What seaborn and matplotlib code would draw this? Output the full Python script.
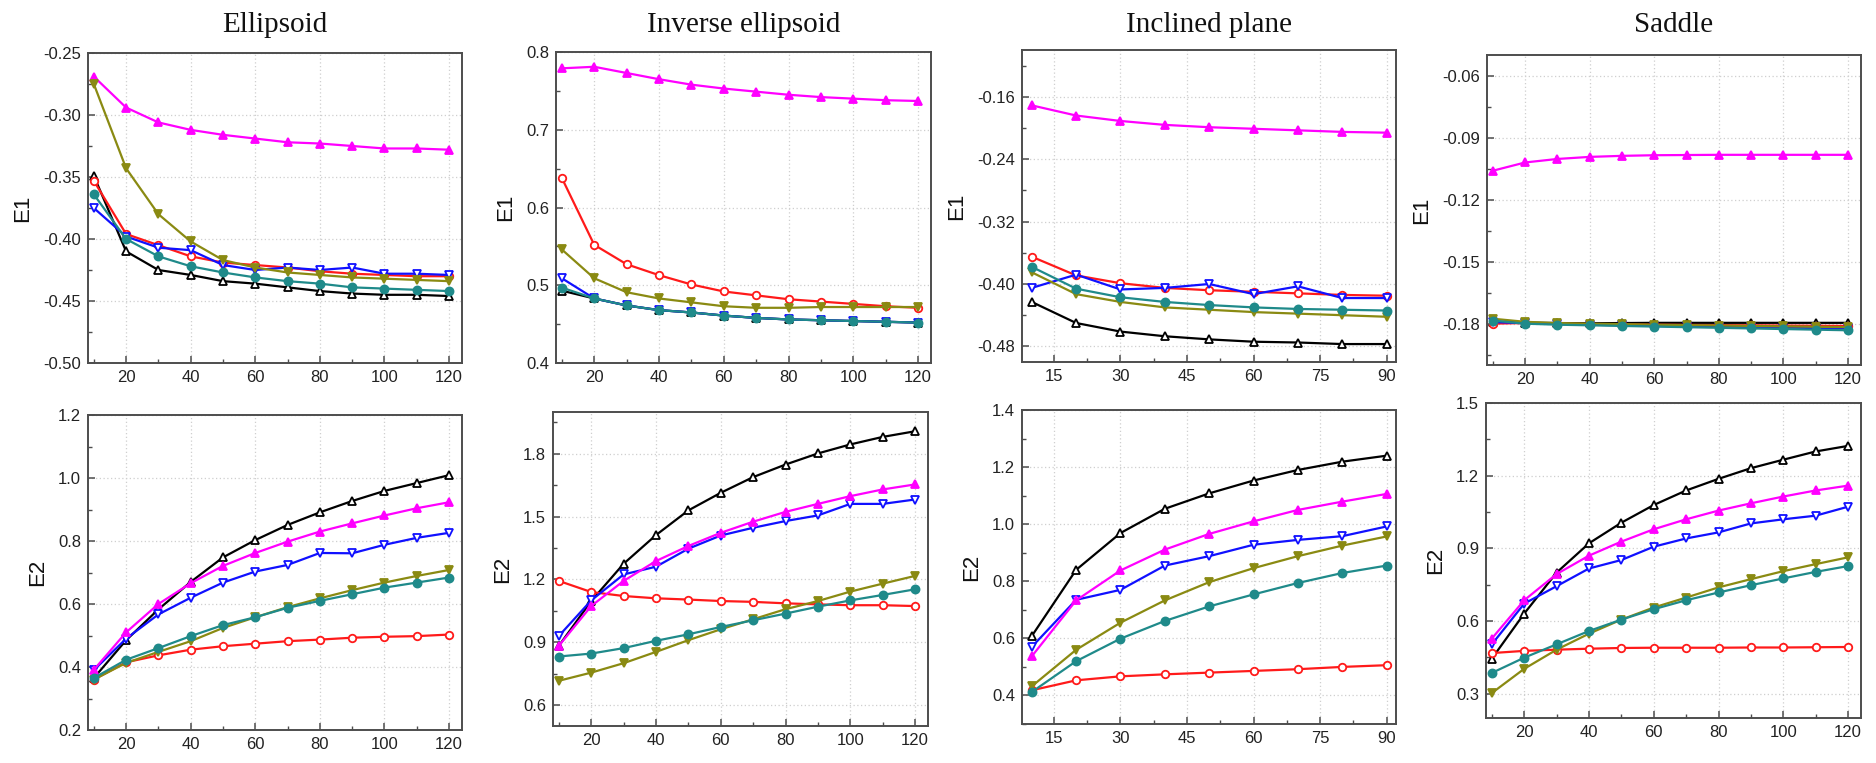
import numpy as np
import pandas as pd
import matplotlib
matplotlib.use("Agg")
import matplotlib.pyplot as plt
from matplotlib.ticker import MultipleLocator, FormatStrFormatter
import seaborn as sns

# ---------------- data ----------------
x120 = [10, 20, 30, 40, 50, 60, 70, 80, 90, 100, 110, 120]
x90 = [10, 20, 30, 40, 50, 60, 70, 80, 90]

titles = ["Ellipsoid", "Inverse ellipsoid", "Inclined plane", "Saddle"]
row_labels = ["E1", "E2"]

# Ellipsoid E1
ell_e1_black = [-0.349, -0.410, -0.425, -0.429, -0.434, -0.436, -0.439, -0.442, -0.444, -0.445, -0.445, -0.446]
ell_e1_red = [-0.353, -0.396, -0.405, -0.414, -0.419, -0.421, -0.423, -0.426, -0.428, -0.429, -0.430, -0.430]
ell_e1_blue = [-0.375, -0.398, -0.407, -0.409, -0.421, -0.425, -0.423, -0.425, -0.423, -0.428, -0.428, -0.429]
ell_e1_magenta = [-0.269, -0.294, -0.306, -0.312, -0.316, -0.319, -0.322, -0.323, -0.325, -0.327, -0.327, -0.328]
ell_e1_olive = [-0.275, -0.343, -0.380, -0.402, -0.417, -0.423, -0.427, -0.429, -0.431, -0.432, -0.433, -0.434]
ell_e1_teal = [-0.364, -0.400, -0.414, -0.422, -0.427, -0.431, -0.434, -0.436, -0.439, -0.440, -0.441, -0.442]

# Inverse ellipsoid E1
inv_e1_black = [0.493, 0.483, 0.474, 0.468, 0.465, 0.461, 0.458, 0.456, 0.455, 0.454, 0.453, 0.452]
inv_e1_red = [0.638, 0.552, 0.527, 0.513, 0.501, 0.492, 0.487, 0.482, 0.479, 0.476, 0.473, 0.471]
inv_e1_blue = [0.509, 0.483, 0.474, 0.468, 0.465, 0.461, 0.458, 0.456, 0.455, 0.454, 0.453, 0.452]
inv_e1_magenta = [0.779, 0.781, 0.773, 0.765, 0.758, 0.753, 0.749, 0.745, 0.742, 0.740, 0.738, 0.737]
inv_e1_olive = [0.546, 0.509, 0.491, 0.483, 0.478, 0.473, 0.471, 0.471, 0.472, 0.472, 0.472, 0.472]
inv_e1_teal = [0.497, 0.483, 0.474, 0.468, 0.465, 0.461, 0.458, 0.456, 0.455, 0.454, 0.453, 0.452]

# Inclined plane E1
inc_e1_black = [-0.423, -0.450, -0.461, -0.467, -0.471, -0.474, -0.475, -0.477, -0.477]
inc_e1_red = [-0.365, -0.389, -0.399, -0.405, -0.408, -0.410, -0.412, -0.414, -0.415]
inc_e1_blue = [-0.405, -0.388, -0.407, -0.405, -0.400, -0.413, -0.403, -0.418, -0.418]
inc_e1_magenta = [-0.171, -0.184, -0.191, -0.196, -0.199, -0.201, -0.203, -0.205, -0.206]
inc_e1_olive = [-0.385, -0.413, -0.423, -0.430, -0.433, -0.436, -0.438, -0.440, -0.442]
inc_e1_teal = [-0.378, -0.406, -0.417, -0.423, -0.427, -0.430, -0.432, -0.433, -0.434]

# Saddle E1
sad_e1_black = [-0.1790, -0.1795, -0.1797, -0.1798, -0.1797, -0.1796, -0.1796, -0.1796, -0.1796, -0.1796, -0.1796, -0.1796]
sad_e1_red = [-0.1800, -0.1797, -0.1800, -0.1802, -0.1803, -0.1805, -0.1806, -0.1807, -0.1808, -0.1809, -0.1810, -0.1811]
sad_e1_blue = [-0.1792, -0.1798, -0.1802, -0.1805, -0.1808, -0.1811, -0.1813, -0.1815, -0.1817, -0.1819, -0.1821, -0.1823]
sad_e1_magenta = [-0.1060, -0.1020, -0.1003, -0.0993, -0.0988, -0.0985, -0.0984, -0.0983, -0.0983, -0.0983, -0.0983, -0.0983]
sad_e1_olive = [-0.1776, -0.1791, -0.1797, -0.1800, -0.1802, -0.1805, -0.1807, -0.1809, -0.1811, -0.1813, -0.1815, -0.1817]
sad_e1_teal = [-0.1785, -0.1800, -0.1805, -0.1808, -0.1811, -0.1814, -0.1817, -0.1820, -0.1823, -0.1826, -0.1829, -0.1832]

# Ellipsoid E2
ell_e2_black = [0.365, 0.485, 0.583, 0.670, 0.748, 0.803, 0.851, 0.891, 0.927, 0.959, 0.984, 1.009]
ell_e2_red = [0.360, 0.415, 0.437, 0.455, 0.466, 0.474, 0.482, 0.487, 0.493, 0.496, 0.498, 0.503]
ell_e2_blue = [0.390, 0.490, 0.567, 0.620, 0.668, 0.703, 0.724, 0.762, 0.761, 0.788, 0.810, 0.826]
ell_e2_magenta = [0.391, 0.510, 0.600, 0.666, 0.721, 0.762, 0.798, 0.830, 0.856, 0.881, 0.904, 0.923]
ell_e2_olive = [0.360, 0.413, 0.448, 0.482, 0.524, 0.558, 0.590, 0.618, 0.644, 0.668, 0.689, 0.708]
ell_e2_teal = [0.365, 0.423, 0.460, 0.498, 0.533, 0.558, 0.588, 0.610, 0.631, 0.652, 0.668, 0.684]

# Inverse ellipsoid E2
inv_e2_black = [0.883, 1.097, 1.275, 1.412, 1.530, 1.614, 1.689, 1.749, 1.802, 1.845, 1.881, 1.908]
inv_e2_red = [1.193, 1.140, 1.121, 1.110, 1.104, 1.097, 1.093, 1.086, 1.081, 1.077, 1.077, 1.073]
inv_e2_blue = [0.930, 1.100, 1.224, 1.261, 1.347, 1.410, 1.447, 1.479, 1.506, 1.561, 1.561, 1.582]
inv_e2_magenta = [0.883, 1.073, 1.193, 1.288, 1.360, 1.423, 1.476, 1.523, 1.561, 1.598, 1.630, 1.654]
inv_e2_olive = [0.716, 0.755, 0.800, 0.854, 0.910, 0.962, 1.010, 1.058, 1.097, 1.142, 1.180, 1.217]
inv_e2_teal = [0.832, 0.846, 0.872, 0.907, 0.938, 0.973, 1.005, 1.037, 1.070, 1.100, 1.126, 1.153]

# Inclined plane E2
inc_e2_black = [0.608, 0.840, 0.969, 1.054, 1.108, 1.153, 1.190, 1.219, 1.240]
inc_e2_red = [0.418, 0.453, 0.467, 0.474, 0.480, 0.486, 0.492, 0.500, 0.506]
inc_e2_blue = [0.570, 0.735, 0.770, 0.855, 0.888, 0.928, 0.945, 0.958, 0.992]
inc_e2_magenta = [0.537, 0.733, 0.838, 0.911, 0.966, 1.010, 1.050, 1.079, 1.106]
inc_e2_olive = [0.432, 0.560, 0.655, 0.733, 0.797, 0.846, 0.888, 0.925, 0.957]
inc_e2_teal = [0.412, 0.520, 0.599, 0.661, 0.712, 0.754, 0.794, 0.829, 0.855]

# Saddle E2
sad_e2_black = [0.445, 0.631, 0.800, 0.921, 1.006, 1.079, 1.139, 1.187, 1.231, 1.266, 1.300, 1.323]
sad_e2_red = [0.468, 0.477, 0.482, 0.486, 0.489, 0.490, 0.490, 0.490, 0.491, 0.491, 0.492, 0.493]
sad_e2_blue = [0.504, 0.672, 0.744, 0.817, 0.852, 0.907, 0.941, 0.966, 1.003, 1.020, 1.035, 1.072]
sad_e2_magenta = [0.528, 0.686, 0.794, 0.870, 0.928, 0.979, 1.020, 1.056, 1.086, 1.114, 1.139, 1.159]
sad_e2_olive = [0.303, 0.403, 0.482, 0.548, 0.606, 0.656, 0.697, 0.739, 0.773, 0.806, 0.835, 0.863]
sad_e2_teal = [0.386, 0.449, 0.504, 0.559, 0.606, 0.649, 0.686, 0.718, 0.748, 0.776, 0.803, 0.827]

# ---------------- table of panels built from the arrays ----------------
series_order = ["black", "red", "blue", "magenta", "olive", "teal"]
panels = [
    (0, 0, x120, dict(black=ell_e1_black, red=ell_e1_red, blue=ell_e1_blue, magenta=ell_e1_magenta, olive=ell_e1_olive, teal=ell_e1_teal)),
    (0, 1, x120, dict(black=inv_e1_black, red=inv_e1_red, blue=inv_e1_blue, magenta=inv_e1_magenta, olive=inv_e1_olive, teal=inv_e1_teal)),
    (0, 2, x90, dict(black=inc_e1_black, red=inc_e1_red, blue=inc_e1_blue, magenta=inc_e1_magenta, olive=inc_e1_olive, teal=inc_e1_teal)),
    (0, 3, x120, dict(black=sad_e1_black, red=sad_e1_red, blue=sad_e1_blue, magenta=sad_e1_magenta, olive=sad_e1_olive, teal=sad_e1_teal)),
    (1, 0, x120, dict(black=ell_e2_black, red=ell_e2_red, blue=ell_e2_blue, magenta=ell_e2_magenta, olive=ell_e2_olive, teal=ell_e2_teal)),
    (1, 1, x120, dict(black=inv_e2_black, red=inv_e2_red, blue=inv_e2_blue, magenta=inv_e2_magenta, olive=inv_e2_olive, teal=inv_e2_teal)),
    (1, 2, x90, dict(black=inc_e2_black, red=inc_e2_red, blue=inc_e2_blue, magenta=inc_e2_magenta, olive=inc_e2_olive, teal=inc_e2_teal)),
    (1, 3, x120, dict(black=sad_e2_black, red=sad_e2_red, blue=sad_e2_blue, magenta=sad_e2_magenta, olive=sad_e2_olive, teal=sad_e2_teal)),
]

# ---------------- styles ----------------
styles = {
    "black":   dict(color="#000000", marker="^", mfc="white", ms=6.2),
    "red":     dict(color="#FF1A1A", marker="o", mfc="white", ms=5.4),
    "blue":    dict(color="#1010FF", marker="v", mfc="white", ms=6.2),
    "magenta": dict(color="#FF00FF", marker="^", mfc=None, ms=6.2),
    "olive":   dict(color="#8A8A12", marker="v", mfc=None, ms=6.2),
    "teal":    dict(color="#1F8A8A", marker="o", mfc=None, ms=5.8),
}

W, H = 1876, 763
rects = {
    (0, 0): (88, 53, 462, 363), (0, 1): (556, 52, 931, 363),
    (0, 2): (1022, 50, 1396, 362), (0, 3): (1487, 55, 1861, 365),
    (1, 0): (88, 415, 462, 730), (1, 1): (553, 412, 928, 726),
    (1, 2): (1022, 410, 1396, 724), (1, 3): (1486, 403, 1861, 718),
}
ylims = {
    (0, 0): (-0.50, -0.25, 0.05, 0.025, "%.2f"),
    (0, 1): (0.40, 0.80, 0.1, 0.05, "%.1f"),
    (0, 2): (-0.50, -0.10, 0.08, 0.04, "%.2f"),
    (0, 3): (-0.20, -0.05, 0.03, 0.015, "%.2f"),
    (1, 0): (0.2, 1.2, 0.2, 0.1, "%.1f"),
    (1, 1): (0.5, 2.0, 0.3, 0.15, "%.1f"),
    (1, 2): (0.3, 1.4, 0.2, 0.1, "%.1f"),
    (1, 3): (0.2, 1.5, 0.3, 0.15, "%.1f"),
}
yticks_start = {
    (0, 0): -0.50, (0, 1): 0.4, (0, 2): -0.48, (0, 3): -0.18,
    (1, 0): 0.2, (1, 1): 0.6, (1, 2): 0.4, (1, 3): 0.3,
}

plt.rcParams["font.family"] = ["Liberation Sans", "DejaVu Sans"]
fig = plt.figure(figsize=(W / 100, H / 100), dpi=100)
fig.patch.set_facecolor("white")

spine_col = "#4d4d4d"
for row, col, xs, sd in panels:
    l, t, r, b = rects[(row, col)]
    ax = fig.add_axes([l / W, 1 - b / H, (r - l) / W, (b - t) / H])
    df = pd.DataFrame({"x": xs})
    for name in series_order:
        st = styles[name]
        df[name] = sd[name]
        mfc = st["mfc"] if st["mfc"] is not None else st["color"]
        sns.lineplot(data=df, x="x", y=name, ax=ax, color=st["color"], linewidth=1.6,
                     marker=st["marker"], markersize=st["ms"], markerfacecolor=mfc,
                     markeredgecolor=st["color"], markeredgewidth=1.3, zorder=3)
    ymin, ymax, major, minor, fmt = ylims[(row, col)]
    ax.set_ylim(ymin, ymax)
    y0 = yticks_start[(row, col)]
    ax.set_yticks(np.round(np.arange(y0, ymax + 1e-9, major), 4))
    ax.yaxis.set_minor_locator(MultipleLocator(minor))
    ax.yaxis.set_major_formatter(FormatStrFormatter(fmt))
    if col == 2:
        ax.set_xlim(7.8, 92.1)
        ax.set_xticks([15, 30, 45, 60, 75, 90])
        ax.xaxis.set_minor_locator(MultipleLocator(7.5))
    else:
        ax.set_xlim(8.2, 124.0)
        ax.set_xticks([20, 40, 60, 80, 100, 120])
        ax.xaxis.set_minor_locator(MultipleLocator(10))
    ax.set_xlabel("")
    ax.set_ylabel(row_labels[row], fontsize=16, color="#111111", labelpad=7)
    ax.grid(True, which="major", linestyle=(0, (1, 2)), color="#cfcfcf", linewidth=0.9)
    ax.set_axisbelow(True)
    for s in ax.spines.values():
        s.set_color(spine_col)
        s.set_linewidth(1.4)
    ax.tick_params(axis="both", which="major", direction="in", length=5, width=1.1,
                   colors=spine_col, labelcolor="#222222", labelsize=12, pad=5)
    ax.tick_params(axis="both", which="minor", direction="in", length=3, width=1.0,
                   colors=spine_col)
    ax.set_facecolor("white")
    if row == 0:
        cx = (l + r) / 2 / W
        fig.text(cx, 1 - 25 / H, titles[col], ha="center", va="center",
                 fontsize=21, family=["Liberation Serif", "DejaVu Serif"], color="#111111")

fig.savefig("out.png", dpi=100, facecolor="white")
